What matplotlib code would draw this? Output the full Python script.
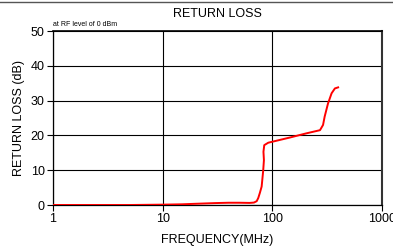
import matplotlib
matplotlib.use("Agg")
import matplotlib.pyplot as plt
from matplotlib.lines import Line2D

plt.rcParams["font.family"] = ["Liberation Sans", "DejaVu Sans"]

# ── Return loss curve ────────────────────────────────────────────
FREQ_MHZ = [1, 5, 10, 15, 20, 30, 40, 50, 62, 68, 72, 74.4, 77, 79.9, 82.6, 83.8,
            83.0, 84.4, 91.8, 145, 205, 272, 290, 300, 322, 347, 372, 398]
RL_DB = [0, 0, 0.1, 0.2, 0.35, 0.55, 0.65, 0.65, 0.6, 0.7, 1.1, 2.0, 3.5, 5.3,
         10, 12.9, 15.3, 17.2, 17.9, 19.4, 20.6, 21.5, 23.0, 25.4, 29.2, 32.1, 33.5, 33.8]
X_TICKS = [1, 10, 100, 1000]
Y_TICKS = [0, 10, 20, 30, 40, 50]

fig = plt.figure(figsize=(3.93, 2.5), dpi=100)
ax = fig.add_axes([53 / 393, 1 - 205 / 250, (382 - 53) / 393, (205 - 31) / 250])

ax.plot(FREQ_MHZ, RL_DB, color="#ff0000", linewidth=1.4, zorder=3)
ax.set_xscale("log")
ax.set_xlim(1, 1000)
ax.set_ylim(0, 50)
ax.set_xticks(X_TICKS)
ax.set_xticklabels([str(t) for t in X_TICKS])
ax.xaxis.set_minor_locator(matplotlib.ticker.NullLocator())
ax.set_yticks(Y_TICKS)
ax.grid(True, color="black", linewidth=0.8)
ax.tick_params(labelsize=9, length=4, width=0.8, pad=2)
for s in ax.spines.values():
    s.set_color("black")
    s.set_linewidth(0.9)
ax.spines["right"].set_linewidth(1.5)
ax.spines["right"].set_color("#333333")
ax.spines["top"].set_linewidth(1.2)

ax.set_title("RETURN LOSS", fontsize=9, pad=10)
ax.text(0.0, 1.015, "at RF level of 0 dBm", transform=ax.transAxes,
        fontsize=5, ha="left", va="bottom")
ax.set_xlabel("FREQUENCY(MHz)", fontsize=9, labelpad=6)
ax.set_ylabel("RETURN LOSS (dB)", fontsize=9, labelpad=4)

# thin frame line along the top of the figure
fig.add_artist(Line2D([0, 1], [1 - 2 / 250] * 2, transform=fig.transFigure,
                      color="#555555", linewidth=1))

fig.savefig("out.png", dpi=100)
